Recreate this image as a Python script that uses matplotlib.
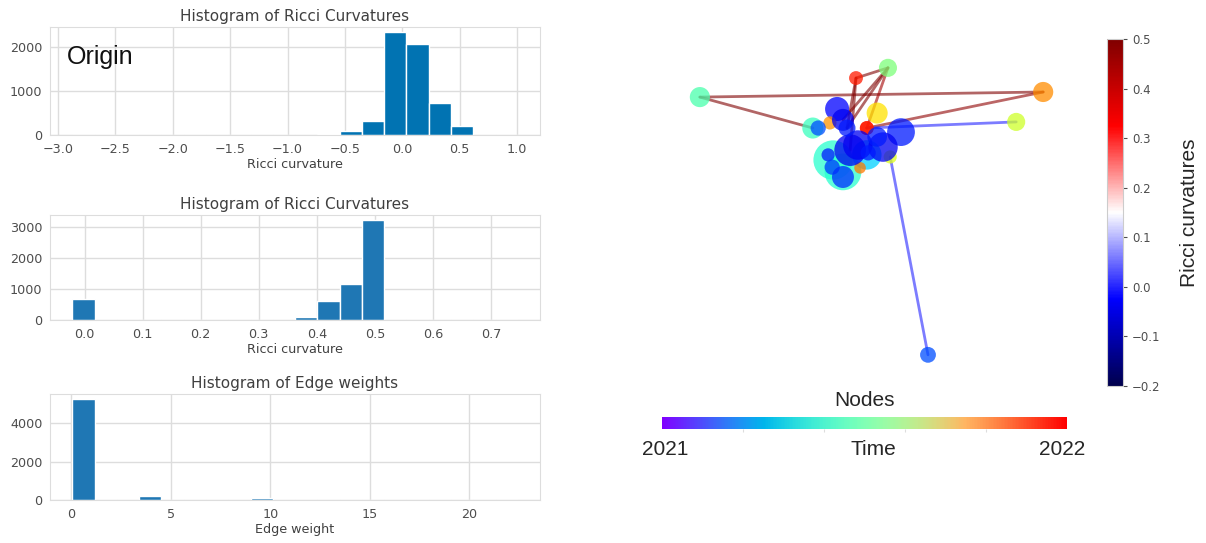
import matplotlib
matplotlib.use("Agg")
import matplotlib.pyplot as plt
import matplotlib.colors as mcolors
import matplotlib.cm as cm
import numpy as np
import seaborn as sns

# histogram bin edges and counts
ricci_origin_edges = np.linspace(-2.876, 1.006, 21)
ricci_origin_counts = [1, 0, 0, 0, 0, 0, 0, 0, 0, 0, 0,
                       30, 95, 310, 2330, 2050, 720, 200, 0, 2]

ricci_edges = np.linspace(-0.021, 0.746, 21)
ricci_counts = [690, 0, 0, 0, 0, 0, 0, 0, 0, 0,
                100, 600, 1150, 3230, 0, 0, 0, 0, 0, 4]

weight_edges = np.linspace(0.05, 22.45, 21)
weight_counts = [5250, 0, 0, 190, 0, 0, 0, 0, 120, 0,
                 0, 0, 0, 0, 0, 0, 0, 0, 0, 2]

# graph layout (x, y in layout units), node time (0 = 2021, 1 = 2022), node size
node_x = [0.133, 0.896, 0.551, 0.480, 0.836, 0.640, 0.527, 0.580, 0.438,
          0.429, 0.451, 0.384, 0.504, 0.422, 0.396, 0.489, 0.556, 0.504,
          0.504, 0.467, 0.540, 0.484, 0.418, 0.427, 0.451, 0.507, 0.451,
          0.460, 0.527]
node_y = [0.832, 0.847, 0.918, 0.888, 0.759, 0.074, 0.785, 0.729, 0.797,
          0.647, 0.612, 0.741, 0.662, 0.756, 0.741, 0.624, 0.656, 0.741,
          0.741, 0.676, 0.685, 0.691, 0.662, 0.626, 0.597, 0.668, 0.765,
          0.741, 0.715]
node_time = [0.44, 0.76, 0.50, 0.88, 0.60, 0.20, 0.67, 0.15, 0.12,
             0.40, 0.40, 0.42, 0.33, 0.75, 0.20, 0.78, 0.62, 0.88,
             0.88, 0.10, 0.10, 0.10, 0.15, 0.18, 0.17, 0.15, 0.10,
             0.15, 0.15]
node_size = [210, 210, 170, 100, 170, 130, 230, 400, 300,
             800, 700, 230, 450, 90, 120, 70, 90, 100,
             100, 520, 450, 450, 90, 120, 250, 120, 250,
             150, 200]

# edges as (source, target, ricci curvature)
edge_src = [0, 0, 1, 2, 2, 2, 2, 3, 3, 4, 5]
edge_dst = [1, 11, 17, 3, 26, 27, 18, 27, 19, 18, 16]
edge_curv = [0.5, 0.5, 0.48, 0.5, 0.5, 0.5, 0.45, 0.5, 0.5, 0.0, 0.0]

curv_ticks = [-0.2, -0.1, 0.0, 0.1, 0.2, 0.3, 0.4, 0.5]

sns.set_style("whitegrid")
plt.rcParams['font.family'] = ['DejaVu Sans']

fig = plt.figure(figsize=(12.06, 5.43), dpi=100)

hist_axes = [
    fig.add_axes([0.0415, 0.7514, 0.4063, 0.1989]),
    fig.add_axes([0.0415, 0.4107, 0.4063, 0.1934]),
    fig.add_axes([0.0415, 0.0792, 0.4063, 0.1952]),
]
hist_data = [
    (ricci_origin_edges, ricci_origin_counts, "#0173b2", "Histogram of Ricci Curvatures", "Ricci curvature"),
    (ricci_edges, ricci_counts, "#1f77b4", "Histogram of Ricci Curvatures", "Ricci curvature"),
    (weight_edges, weight_counts, "#1f77b4", "Histogram of Edge weights", "Edge weight"),
]
for ax, (edges, counts, color, title, xlabel) in zip(hist_axes, hist_data):
    centers = (edges[:-1] + edges[1:]) / 2
    ax.hist(centers, bins=edges, weights=counts, color=color, edgecolor="white", linewidth=1)
    ax.set_title(title, fontsize=11, color=".25", pad=4)
    ax.set_xlabel(xlabel, fontsize=9.2, color=".25", labelpad=2)
    ax.tick_params(labelsize=9.2, colors=".3", pad=2)
    ax.grid(color="#dddddd", linewidth=1)
    for sp in ax.spines.values():
        sp.set_color("#dddddd")

hist_axes[0].set_yticks([0, 1000, 2000])
hist_axes[0].set_xticks(np.arange(-3.0, 1.01, 0.5))
hist_axes[1].set_yticks([0, 1000, 2000, 3000])
hist_axes[1].set_xticks(np.arange(0.0, 0.71, 0.1))
hist_axes[2].set_yticks([0, 2000, 4000])
hist_axes[2].set_xticks([0, 5, 10, 15, 20])

hist_axes[0].text(0.035, 0.72, "Origin", transform=hist_axes[0].transAxes,
                  fontsize=18, family="Liberation Sans", va="center", color="#111111")

# network
gax = fig.add_axes([0.5307, 0.3002, 0.3731, 0.6262])
gax.set_xlim(0, 1)
gax.set_ylim(0, 1)
gax.axis("off")

edge_norm = mcolors.Normalize(vmin=-0.2, vmax=0.5)
edge_cmap = plt.get_cmap("seismic")
for s, d, c in zip(edge_src, edge_dst, edge_curv):
    gax.plot([node_x[s], node_x[d]], [node_y[s], node_y[d]],
             color=edge_cmap(edge_norm(c)), alpha=0.6, linewidth=2, zorder=1)

gax.scatter(node_x, node_y, s=node_size, c=node_time, cmap="jet", vmin=0, vmax=1,
            alpha=0.75, linewidths=0, zorder=2)

# edge colorbar
cax = fig.add_axes([0.9179, 0.2891, 0.0133, 0.639])
cb = fig.colorbar(cm.ScalarMappable(norm=edge_norm, cmap=edge_cmap), cax=cax, ticks=curv_ticks)
cb.ax.tick_params(labelsize=8.5, colors=".3", length=3, width=0.8)
cb.outline.set_edgecolor("#cccccc")
cb.set_label("Ricci curvatures", fontsize=15, family="Liberation Sans", labelpad=14)

# node time colorbar
nax = fig.add_axes([0.5489, 0.2099, 0.3358, 0.0221])
ncb = fig.colorbar(cm.ScalarMappable(norm=mcolors.Normalize(0, 1), cmap="rainbow"),
                   cax=nax, orientation="horizontal", ticks=[0.2, 0.4, 0.6, 0.8])
ncb.outline.set_visible(False)
ncb.ax.tick_params(labelbottom=False, length=2, colors="#dddddd")

fig.text(0.7172, 0.2633, "Nodes", fontsize=15, family="Liberation Sans", ha="center", va="center")
fig.text(0.5514, 0.1713, "2021", fontsize=15, family="Liberation Sans", ha="center", va="center")
fig.text(0.7239, 0.1713, "Time", fontsize=15, family="Liberation Sans", ha="center", va="center")
fig.text(0.8806, 0.1713, "2022", fontsize=15, family="Liberation Sans", ha="center", va="center")

fig.savefig("out.png", dpi=100)
